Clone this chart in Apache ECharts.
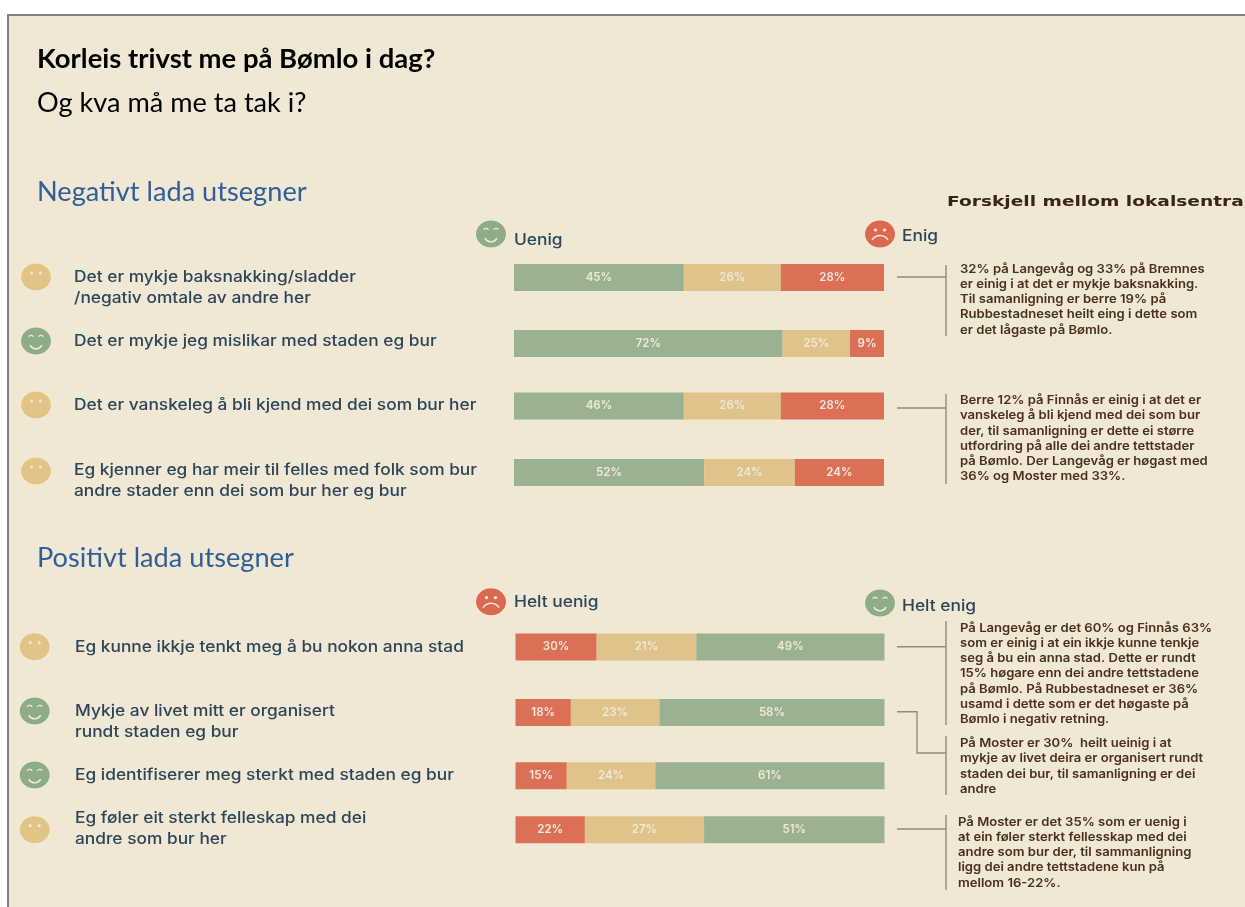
<!DOCTYPE html>
<html><head><meta charset="utf-8">
<style>html,body{margin:0;padding:0;background:#fff}#c{width:1245px;height:907px}</style>
<script src="https://cdn.jsdelivr.net/npm/echarts@6/dist/echarts.min.js"></script>
</head><body><div id="c"></div>
<script>
// ---- data ----
const negStatements = [
  "Det er mykje baksnakking/sladder\n/negativ omtale av andre her",
  "Det er mykje jeg mislikar med staden eg bur",
  "Det er vanskeleg å bli kjend med dei som bur her",
  "Eg kjenner eg har meir til felles med folk som bur\nandre stader enn dei som bur her eg bur"
];
// widths of the segments as drawn in the picture
const negGreen = [45.9, 72.6, 45.9, 51.4];
const negTan   = [26.2, 18.2, 26.2, 24.5];
const negRed   = [27.9, 9.2, 27.9, 24.1];
// percentages as printed on the segments
const negGreenText = ["45%", "72%", "46%", "52%"];
const negTanText   = ["26%", "25%", "26%", "24%"];
const negRedText   = ["28%", "9%", "28%", "24%"];

const posStatements = [
  "Eg kunne ikkje tenkt meg å bu nokon anna stad",
  "Mykje av livet mitt er organisert\nrundt staden eg bur",
  "Eg identifiserer meg sterkt med staden eg bur",
  "Eg føler eit sterkt felleskap med dei\nandre som bur her"
];
const posRed   = [22.0, 15.0, 13.9, 18.8];
const posTan   = [27.0, 24.0, 24.0, 32.3];
const posGreen = [51.0, 61.0, 62.1, 48.9];
const posRedText   = ["30%", "18%", "15%", "22%"];
const posTanText   = ["21%", "23%", "24%", "27%"];
const posGreenText = ["49%", "58%", "61%", "51%"];

const notes = [
  "32% på Langevåg og 33% på Bremnes\ner einig i at det er mykje baksnakking.\nTil samanligning er berre 19% på\nRubbestadneset heilt eing i dette som\ner det lågaste på Bømlo.",
  "Berre 12% på Finnås er einig i at det er\nvanskeleg å bli kjend med dei som bur\nder, til samanligning er dette ei større\nutfordring på alle dei andre tettstader\npå Bømlo. Der Langevåg er høgast med\n36% og Moster med 33%.",
  "På Langevåg er det 60% og Finnås 63%\nsom er einig i at ein ikkje kunne tenkje\nseg å bu ein anna stad. Dette er rundt\n15% høgare enn dei andre tettstadene\npå Bømlo. På Rubbestadneset er 36%\nusamd i dette som er det høgaste på\nBømlo i negativ retning.",
  "På Moster er 30%  heilt ueinig i at\nmykje av livet deira er organisert rundt\nstaden dei bur, til samanligning er dei\nandre",
  "På Moster er det 35% som er uenig i\nat ein føler sterkt fellesskap med dei\nandre som bur der, til sammanligning\nligg dei andre tettstadene kun på\nmellom 16-22%."
];

// ---- layout and style ----
const C = {green:'#9AB292', tan:'#E0C38B', red:'#DC7056', bg:'#F0E7D5', ink:'#2B4659', note:'#4A2E1E', rule:'#9A8973', head:'#2F5E98',
           fGreen:'#8FAC88', fTan:'#E2C486', fRed:'#DB6950', lab:'#EFE8D8'};
const STMT = {fontFamily:'Inter', fontWeight:500, fontSize:15.5, lineHeight:21, fill:C.ink};
const NOTE = {fontFamily:'Inter', fontWeight:600, fontSize:12, lineHeight:15.2, fill:C.note};
const negTop = [264, 330, 392.5, 459], posTop = [633.5, 699, 762.3, 816.3], barH = 27;
const negFaces = ['tan','green','tan','tan'], posFaces = ['tan','green','green','tan'];
const negFaceY = [277,341,405,471], posFaceY = [646.7,711,775,829.7];
const negTextY = [288,341.5,405.5,481], posTextY = [647.2,722,775.5,829];

const grid=[], xAxis=[], yAxis=[], series=[];
function addRow(top, left, width, stmt, parts){
  const i = grid.length;
  grid.push({left, top, width, height:barH});
  xAxis.push({gridIndex:i, type:'value', min:0, max:100, show:false});
  yAxis.push({gridIndex:i, type:'category', data:[stmt], show:false});
  parts.forEach(p=>series.push({
    type:'bar', name:p.name, stack:'r'+i, xAxisIndex:i, yAxisIndex:i, barWidth:'100%',
    data:[p.v], itemStyle:{color:p.c},
    silent:true, animation:false,
    label:{show:true, position:'inside', formatter:p.t, color:C.lab, fontFamily:'Inter', fontWeight:600, fontSize:11.5}
  }));
}
negStatements.forEach((s,i)=>addRow(negTop[i],514,370,s,[
  {name:'Uenig',v:negGreen[i],t:negGreenText[i],c:C.green},
  {name:'Nøytral',v:negTan[i],t:negTanText[i],c:C.tan},
  {name:'Enig',v:negRed[i],t:negRedText[i],c:C.red}]));
posStatements.forEach((s,i)=>addRow(posTop[i],515.5,369,s,[
  {name:'Helt uenig',v:posRed[i],t:posRedText[i],c:C.red},
  {name:'Nøytral',v:posTan[i],t:posTanText[i],c:C.tan},
  {name:'Helt enig',v:posGreen[i],t:posGreenText[i],c:C.green}]));

function face(cx,cy,kind){
  const ch=[];
  const fill={green:C.fGreen,tan:C.fTan,red:C.fRed}[kind];
  ch.push({type:'ellipse',shape:{cx:0,cy:0,rx:15.5,ry:14},style:{fill:'#F6EFE2'}});
  ch.push({type:'ellipse',shape:{cx:0,cy:0,rx:15,ry:13.5},style:{fill}});
  const ink = kind==='tan' ? '#F3E6C8' : '#F0EBDD';
  if(kind==='green'){
    ch.push({type:'arc',shape:{cx:-5,cy:-3,r:2.6,startAngle:Math.PI*1.15,endAngle:Math.PI*1.85},style:{stroke:ink,lineWidth:1.3,fill:null}});
    ch.push({type:'arc',shape:{cx:5,cy:-3,r:2.6,startAngle:Math.PI*1.15,endAngle:Math.PI*1.85},style:{stroke:ink,lineWidth:1.3,fill:null}});
    ch.push({type:'arc',shape:{cx:0,cy:1,r:6.8,startAngle:Math.PI*0.15,endAngle:Math.PI*0.85},style:{stroke:ink,lineWidth:1.6,fill:null}});
  } else {
    ch.push({type:'circle',shape:{cx:-4.5,cy:-4,r:1.6},style:{fill:ink}});
    ch.push({type:'circle',shape:{cx:4.5,cy:-4,r:1.6},style:{fill:ink}});
    if(kind==='red') ch.push({type:'arc',shape:{cx:0,cy:11,r:9.5,startAngle:Math.PI*1.18,endAngle:Math.PI*1.82},style:{stroke:ink,lineWidth:1.5,fill:null}});
  }
  return {type:'group',x:cx,y:cy,children:ch};
}
function txt(x,y,text,style,scaleX){
  return {type:'text',x,y,scaleX:scaleX||1,style:Object.assign({text,textVerticalAlign:'middle',verticalAlign:'middle'},style)};
}
function poly(points,w){return {type:'polyline',shape:{points},style:{stroke:C.rule,lineWidth:w||1.4,fill:null}};}

const g=[];
g.push({type:'rect',shape:{x:8,y:15,width:1245,height:900},style:{fill:C.bg,stroke:'#7F7F7F',lineWidth:2},z:-10});
g.push(txt(37,59,'Korleis trivst me på Bømlo i dag?',{fontFamily:'Lato',fontWeight:700,fontSize:27},1.017));
g.push(txt(37,103,'Og kva må me ta tak i?',{fontFamily:'Lato',fontSize:27,fill:'#000'},1.005));
g.push(txt(37,192,'Negativt lada utsegner',{fontFamily:'Lato',fontSize:27,fill:C.head},1.006));
g.push(txt(37,558,'Positivt lada utsegner',{fontFamily:'Lato',fontSize:27,fill:C.head},1.006));
g.push(txt(947,202,'Forskjell mellom lokalsentra',{fontFamily:'DejaVu Sans',fontWeight:700,fontSize:13.5,fill:'#3A2418'},1.377));

const LEG={fontFamily:'Inter',fontWeight:500,fontSize:15.5,fill:C.ink};
g.push(face(491,234,'green'),txt(514,240.5,'Uenig',LEG,1.12));
g.push(face(880,234,'red'),txt(902,236.5,'Enig',LEG,1.12));
g.push(face(491,601.7,'red'),txt(514,602.5,'Helt uenig',LEG,1.12));
g.push(face(880,603,'green'),txt(902,606.5,'Helt enig',LEG,1.12));

negStatements.forEach((s,i)=>{g.push(face(36,negFaceY[i],negFaces[i]),txt(74,negTextY[i],s,STMT,1.118));});
posStatements.forEach((s,i)=>{g.push(face(34.7,posFaceY[i],posFaces[i]),txt(75,posTextY[i],s,STMT,1.118));});

const noteTop=[[960,261.5],[960,393],[960,620.5],[960,736],[958,814.5]];
notes.forEach((n,i)=>g.push({type:'text',x:noteTop[i][0],y:noteTop[i][1],scaleX:1.09,style:Object.assign({text:n,verticalAlign:'top',textVerticalAlign:'top'},NOTE)}));

g.push(poly([[897,277],[946,277]]),poly([[946,265],[946,336]]));
g.push(poly([[897,408],[946,408]]),poly([[946,394],[946,484]]));
g.push(poly([[897,646.7],[946,646.7]]),poly([[946,621],[946,725]]));
g.push(poly([[897,711.7],[917,711.7],[917,753],[946,753]]),poly([[946,736],[946,795]]));
g.push(poly([[897,829],[946,829]]),poly([[946,815],[946,890]]));

const chart=echarts.init(document.getElementById('c'),null,{renderer:'canvas'});
chart.setOption({animation:false,grid,xAxis,yAxis,series,graphic:{elements:g}});
</script></body></html>
